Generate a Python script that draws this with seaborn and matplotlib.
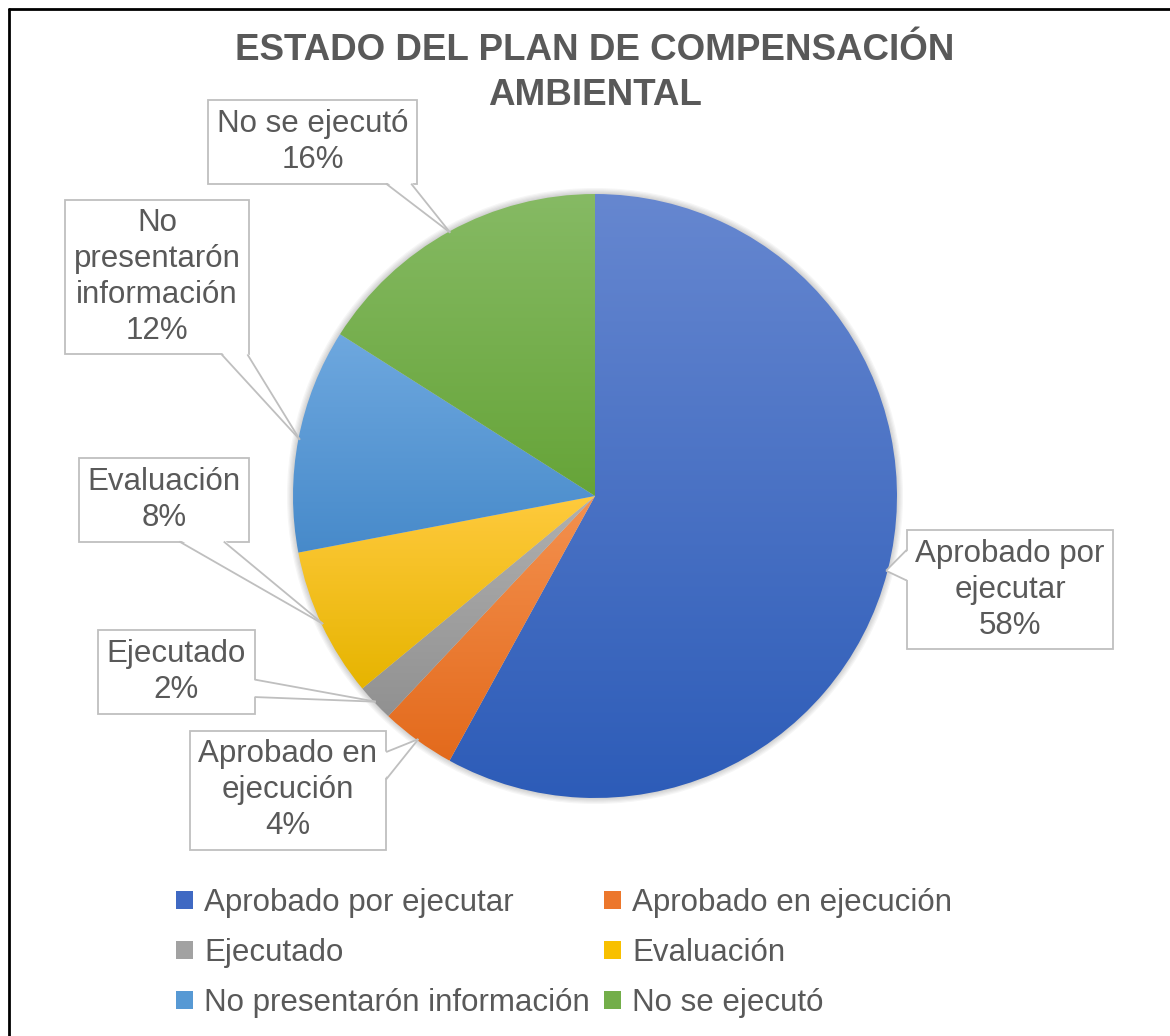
import numpy as np
import matplotlib
matplotlib.use("Agg")
import matplotlib.pyplot as plt
import seaborn as sns
from matplotlib import font_manager
from matplotlib.colors import to_rgb, LinearSegmentedColormap
from matplotlib.lines import Line2D
from matplotlib.patches import Patch, Polygon, Circle

sns.set_theme(style="white")
plt.rcParams['font.family'] = ['Liberation Sans', 'DejaVu Sans']

# ---- data ----
categories = ["Aprobado por ejecutar", "Aprobado en ejecución", "Ejecutado",
              "Evaluación", "No presentarón información", "No se ejecutó"]
values = [58, 4, 2, 8, 12, 16]
label_texts = ["Aprobado por\nejecutar\n58%", "Aprobado en\nejecución\n4%", "Ejecutado\n2%",
               "Evaluación\n8%", "No\npresentarón\ninformación\n12%", "No se ejecutó\n16%"]
title = "ESTADO DEL PLAN DE COMPENSACIÓN\nAMBIENTAL"

# gradient colours (top, bottom) and legend colour
grad_top = ["#6687D0", "#F4914F", "#B0B0B0", "#FFCA3D", "#6EA8DF", "#86BA64"]
grad_bot = ["#2D5CB8", "#E36A1C", "#919191", "#E6B400", "#478ACA", "#66A438"]
legend_cols = ["#3F69C3", "#EC772C", "#A2A2A2", "#F8C000", "#5799D4", "#73AE4A"]

# label box centres in pie-radius units
label_pos = [(1.374, -0.311), (-1.017, -0.974), (-1.387, -0.583),
             (-1.427, -0.013), (-1.450, 0.725), (-0.934, 1.172)]
# callout pointer base: side of box and fractions along that side
pointer_spec = [("left", 0.58, 0.835), ("right", 0.59, 0.82), ("right", 0.20, 0.41),
                ("bottom", 0.59, 0.85), ("bottom", 0.85, 0.99), ("bottom", 0.85, 0.97)]

W, H = 1170, 1036
fig = plt.figure(figsize=(W / 100, H / 100), dpi=100)
fig.patch.set_facecolor("white")

cx, cy, R = 595, 496, 302
ax = fig.add_axes([(cx - R) / W, 1 - (cy + R) / H, 2 * R / W, 2 * R / H])
ax.set_facecolor("none")

# soft shadow behind the pie
for k in range(5):
    ax.add_patch(Circle((0, 0), 1.0 + 0.004 * (k + 1), fc="#000000", ec="none",
                        alpha=0.035, zorder=0.5, clip_on=False))

wedges, _ = ax.pie(values, startangle=90, counterclock=False, radius=1.0,
                   colors=legend_cols, wedgeprops=dict(linewidth=0))

# gradient fills clipped to wedges
for w, ct, cb in zip(wedges, grad_top, grad_bot):
    ext = w.get_path().get_extents()
    cmap = LinearSegmentedColormap.from_list("g", [to_rgb(cb), to_rgb(ct)])
    grad = np.linspace(0, 1, 256).reshape(-1, 1)
    im = ax.imshow(grad, cmap=cmap, origin="lower", aspect="auto",
                   extent=[ext.x0, ext.x1, ext.y0, ext.y1], zorder=2,
                   interpolation="bilinear")
    im.set_clip_path(w)
    w.set_facecolor("none")

ax.set_xlim(-1, 1)
ax.set_ylim(-1, 1)
ax.set_aspect("equal")
ax.axis("off")

# callout label boxes
texts, tips = [], []
total = sum(values)
cum = 0
for v, txt, pos in zip(values, label_texts, label_pos):
    mid = cum + v / 2
    cum += v
    ang = np.deg2rad(90 - 360 * mid / total)
    tips.append((np.cos(ang) * 0.995, np.sin(ang) * 0.995))
    t = ax.text(pos[0], pos[1], txt, ha="center", va="center", fontsize=22.5,
                color="#595959", linespacing=1.25, zorder=5, clip_on=False,
                bbox=dict(boxstyle="square,pad=0.28", fc="white", ec="#BFBFBF", lw=1.3))
    texts.append(t)

fig.canvas.draw()
renderer = fig.canvas.get_renderer()
inv = ax.transData.inverted()
for t, tip, spec in zip(texts, tips, pointer_spec):
    bb = t.get_bbox_patch().get_window_extent(renderer)
    side, f0, f1 = spec
    d = 2.0
    if side == "left":
        b1 = (bb.x0, bb.y0 + f0 * bb.height); b2 = (bb.x0, bb.y0 + f1 * bb.height)
        i1 = (b1[0] + d, b1[1]); i2 = (b2[0] + d, b2[1])
    elif side == "right":
        b1 = (bb.x1, bb.y0 + f0 * bb.height); b2 = (bb.x1, bb.y0 + f1 * bb.height)
        i1 = (b1[0] - d, b1[1]); i2 = (b2[0] - d, b2[1])
    elif side == "bottom":
        b1 = (bb.x0 + f0 * bb.width, bb.y0); b2 = (bb.x0 + f1 * bb.width, bb.y0)
        i1 = (b1[0], b1[1] + d); i2 = (b2[0], b2[1] + d)
    else:
        b1 = (bb.x0 + f0 * bb.width, bb.y1); b2 = (bb.x0 + f1 * bb.width, bb.y1)
        i1 = (b1[0], b1[1] - d); i2 = (b2[0], b2[1] - d)
    tipd = ax.transData.transform(tip)
    pts = inv.transform(np.array([i1, tipd, i2]))
    ax.add_patch(Polygon(pts, closed=True, fc="white", ec="none", zorder=6, clip_on=False))
    for b in (b1, b2):
        seg = inv.transform(np.array([b, tipd]))
        ax.add_line(Line2D(seg[:, 0], seg[:, 1], color="#BFBFBF", lw=1.3, zorder=7,
                           clip_on=False, solid_capstyle="butt"))

# title (condensed font when available)
names = {f.name for f in font_manager.fontManager.ttflist}
if "Liberation Sans Narrow" in names:
    tfam, tsize = ["Liberation Sans Narrow", "Liberation Sans"], 31.5
else:
    tfam, tsize = ["Liberation Sans", "DejaVu Sans"], 26.5
fig.text(cx / W, 1 - 73 / H, title, ha="center", va="center", fontsize=tsize,
         fontweight="bold", color="#595959", linespacing=1.38, family=tfam)

# legend (row-major order like the reference)
order = [0, 2, 4, 1, 3, 5]
handles = [Patch(facecolor=legend_cols[i], edgecolor="none") for i in order]
labels = [categories[i] for i in order]
leg = fig.legend(handles, labels, ncol=2, loc="center",
                 bbox_to_anchor=(564 / W, 1 - 953 / H), frameon=False,
                 fontsize=22.5, handlelength=0.55, handleheight=0.55,
                 handletextpad=0.35, columnspacing=0.45, labelspacing=0.64)
for t in leg.get_texts():
    t.set_color("#595959")

# outer frame (top and left edges)
fig.add_artist(Line2D([8.5 / W, 1], [1 - 8.5 / H, 1 - 8.5 / H], color="black", lw=2,
                      transform=fig.transFigure))
fig.add_artist(Line2D([8.5 / W, 8.5 / W], [0, 1 - 8.5 / H], color="black", lw=2,
                      transform=fig.transFigure))

fig.savefig("out.png", dpi=100, facecolor="white")
